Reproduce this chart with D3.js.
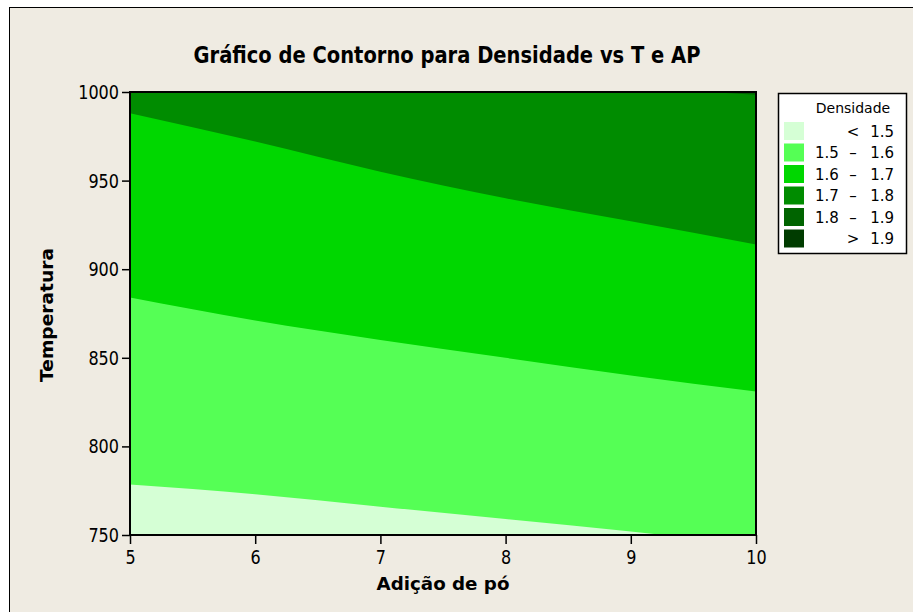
<!DOCTYPE html>
<html>
<head>
<meta charset="utf-8">
<script src="https://cdn.jsdelivr.net/npm/d3@7"></script>
<style>
  body { margin: 0; background: #fff; }
  svg { display: block; }
  text { font-family: "DejaVu Sans", sans-serif; fill: #000; }
</style>
</head>
<body>
<script>
var W = 913, H = 612;

// x positions where each contour line was read
var xs = [5, 6, 7, 8, 9, 10];
// temperature of each contour boundary at xs
var c15 = [778.5, 773, 766, 759, 752, 744];
var c16 = [884, 871, 860, 850, 840, 831];
var c17 = [988, 972, 955, 940, 927, 914];
var c18 = [1012, 1009.5, 1007, 1004.5, 1002, 998.5];

var levelLeft = ["", "1.5", "1.6", "1.7", "1.8", ""];
var levelMid = ["<", "\u2013", "\u2013", "\u2013", "\u2013", ">"];
var levelRight = ["1.5", "1.6", "1.7", "1.8", "1.9", "1.9"];
var levelColors = ["#d5ffd5", "#55ff55", "#00d700", "#008c00", "#006400", "#003c00"];

var xTicks = [5, 6, 7, 8, 9, 10];
var yTicks = [750, 800, 850, 900, 950, 1000];

var svg = d3.select("body").append("svg")
  .attr("width", W)
  .attr("height", H);

svg.append("rect")
  .attr("x", 9.5).attr("y", 7.5)
  .attr("width", W + 10).attr("height", H + 10)
  .attr("fill", "#efebe2")
  .attr("stroke", "#000")
  .attr("stroke-width", 1);

var margin = {left: 130, top: 92, right: 756, bottom: 535};

var x = d3.scaleLinear().domain([5, 10]).range([margin.left, margin.right]);
var y = d3.scaleLinear().domain([750, 1000]).range([margin.bottom, margin.top]);

svg.append("clipPath").attr("id", "plotclip")
  .append("rect")
  .attr("x", margin.left).attr("y", margin.top)
  .attr("width", margin.right - margin.left)
  .attr("height", margin.bottom - margin.top);

var plot = svg.append("g").attr("clip-path", "url(#plotclip)");

plot.append("rect")
  .attr("x", margin.left).attr("y", margin.top)
  .attr("width", margin.right - margin.left)
  .attr("height", margin.bottom - margin.top)
  .attr("fill", levelColors[0]);

var bounds = [c15, c16, c17, c18];

var area = d3.area()
  .x(function(d) { return x(d[0]); })
  .y0(function() { return y(1050); })
  .y1(function(d) { return y(d[1]); })
  .curve(d3.curveMonotoneX);

bounds.forEach(function(b, i) {
  var pts = xs.map(function(v, j) { return [v, b[j]]; });
  plot.append("path")
    .datum(pts)
    .attr("d", area)
    .attr("fill", levelColors[i + 1]);
});

// axes
var xAxis = svg.append("g")
  .attr("transform", "translate(0," + margin.bottom + ")")
  .call(d3.axisBottom(x).tickValues(xTicks).tickSize(9).tickPadding(6).tickFormat(d3.format("d")));
var yAxis = svg.append("g")
  .attr("transform", "translate(" + margin.left + ",0)")
  .call(d3.axisLeft(y).tickValues(yTicks).tickSize(8).tickPadding(3).tickFormat(d3.format("d")));

[xAxis, yAxis].forEach(function(a) {
  a.select(".domain").remove();
  a.selectAll("line").attr("stroke", "#000").attr("stroke-width", 1.5);
  a.selectAll("text")
    .attr("font-size", 20)
    .attr("font-family", "DejaVu Sans")
    .attr("fill", "#000")
    .attr("textLength", function() { return this.textContent.length * 10.2; })
    .attr("lengthAdjust", "spacingAndGlyphs");
});

// plot frame
svg.append("rect")
  .attr("x", margin.left).attr("y", margin.top)
  .attr("width", margin.right - margin.left)
  .attr("height", margin.bottom - margin.top)
  .attr("fill", "none")
  .attr("stroke", "#000")
  .attr("stroke-width", 2);

// titles
svg.append("text")
  .attr("x", 447).attr("y", 63)
  .attr("text-anchor", "middle")
  .attr("font-size", 23)
  .attr("font-weight", "bold")
  .attr("textLength", 507)
  .attr("lengthAdjust", "spacingAndGlyphs")
  .text("Gráfico de Contorno para Densidade vs T e AP");

svg.append("text")
  .attr("x", 443).attr("y", 590)
  .attr("text-anchor", "middle")
  .attr("font-size", 18)
  .attr("font-weight", "bold")
  .attr("textLength", 133)
  .attr("lengthAdjust", "spacingAndGlyphs")
  .text("Adição de pó");

svg.append("text")
  .attr("transform", "translate(53,315) rotate(-90)")
  .attr("text-anchor", "middle")
  .attr("font-size", 18)
  .attr("font-weight", "bold")
  .attr("textLength", 134)
  .attr("lengthAdjust", "spacingAndGlyphs")
  .text("Temperatura");

// legend
var lg = svg.append("g");
lg.append("rect")
  .attr("x", 778.5).attr("y", 93.5)
  .attr("width", 128).attr("height", 160)
  .attr("fill", "#fff")
  .attr("stroke", "#000")
  .attr("stroke-width", 1.5);

lg.append("text")
  .attr("x", 853).attr("y", 113)
  .attr("text-anchor", "middle")
  .attr("font-size", 14)
  .text("Densidade");

var rows = lg.selectAll("g.row")
  .data(levelColors)
  .enter().append("g")
  .attr("class", "row")
  .attr("transform", function(d, i) { return "translate(0," + (131 + i * 21.5) + ")"; });

rows.append("rect")
  .attr("x", 784).attr("y", -9)
  .attr("width", 20).attr("height", 18)
  .attr("fill", function(d) { return d; });

rows.append("text")
  .attr("x", 815).attr("y", 5.5)
  .attr("font-size", 15)
  .text(function(d, i) { return levelLeft[i]; });
rows.append("text")
  .attr("x", 853).attr("y", 5.5)
  .attr("text-anchor", "middle")
  .attr("font-size", 15)
  .text(function(d, i) { return levelMid[i]; });
rows.append("text")
  .attr("x", 894).attr("y", 5.5)
  .attr("text-anchor", "end")
  .attr("font-size", 15)
  .text(function(d, i) { return levelRight[i]; });
</script>
</body>
</html>
